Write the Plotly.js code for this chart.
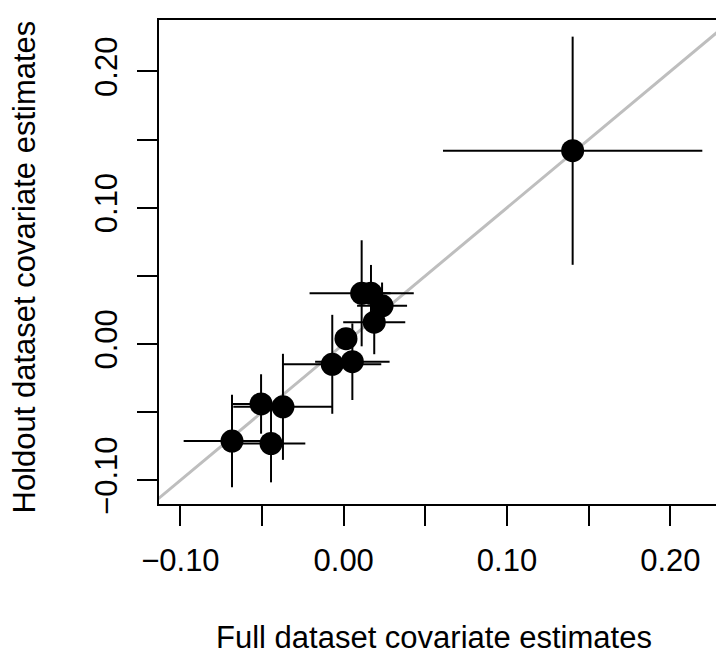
<!DOCTYPE html>
<html>
<head>
<meta charset="utf-8">
<script src="https://cdn.plot.ly/plotly-3.0.1.min.js"></script>
<style>html,body{margin:0;padding:0;background:#fff;}#chart{width:716px;height:657px;}</style>
</head>
<body>
<div id="chart"></div>
<script>
// Full dataset estimates (x) and holdout dataset estimates (y) with error half-widths
var fullEst     = [-0.0684, -0.0445, -0.0506, -0.0372, -0.0070, 0.0053, 0.0014, 0.0187, 0.0235, 0.0110, 0.0167, 0.1402];
var holdoutEst  = [-0.0712, -0.0730, -0.0440, -0.0461, -0.0149, -0.0130, 0.0039, 0.0160, 0.0280, 0.0372, 0.0372, 0.1418];
var fullErr     = [0.0296, 0.0210, 0.0178, 0.0304, 0.0300, 0.0228, 0.0050, 0.0190, 0.0153, 0.0319, 0.0120, 0.0794];
var holdoutErr  = [0.0339, 0.0285, 0.0218, 0.0389, 0.0363, 0.0281, 0.0050, 0.0235, 0.0171, 0.0389, 0.0208, 0.0837];

// identity reference line y = x
var identityLine = [-0.3, 0.4];

var xTickVals = [-0.10, -0.05, 0.00, 0.05, 0.10, 0.15, 0.20];
var xTickText = ["\u22120.10", "", "0.00", "", "0.10", "", "0.20"];
var yTickVals = [-0.10, -0.05, 0.00, 0.05, 0.10, 0.15, 0.20];
var yTickText = ["\u22120.10", "", "0.00", "", "0.10", "", "0.20"];

var xTitle = "Full dataset covariate estimates";
var yTitle = "Holdout dataset covariate estimates";

var FONT = "Liberation Sans, Arial, Helvetica, sans-serif";

var traces = [
  {
    x: identityLine, y: identityLine, type: 'scatter', mode: 'lines',
    line: {color: '#bebebe', width: 3}, hoverinfo: 'skip', showlegend: false
  },
  {
    x: fullEst, y: holdoutEst, type: 'scatter', mode: 'markers',
    marker: {color: '#000000', size: 23, line: {width: 0}},
    error_x: {type: 'data', array: fullErr, symmetric: true, color: '#000000', thickness: 2, width: 0},
    error_y: {type: 'data', array: holdoutErr, symmetric: true, color: '#000000', thickness: 2, width: 0},
    showlegend: false, cliponaxis: false
  }
];

var layout = {
  width: 716, height: 657,
  margin: {l: 159, r: 0, t: 20, b: 153, pad: 0},
  paper_bgcolor: '#ffffff', plot_bgcolor: '#ffffff',
  font: {family: FONT, size: 31, color: '#000000'},
  showlegend: false,
  xaxis: {
    range: [-0.11310, 0.22798], autorange: false,
    tickmode: 'array', tickvals: xTickVals, ticktext: xTickText,
    ticks: 'outside', ticklen: 20, tickwidth: 2, tickcolor: '#000000',
    showline: true, linewidth: 2, linecolor: '#000000', mirror: true,
    showgrid: false, zeroline: false,
    tickfont: {family: FONT, size: 31, color: '#000000'},
    ticklabelstandoff: 8
  },
  yaxis: {
    range: [-0.11739, 0.23771], autorange: false,
    tickmode: 'array', tickvals: yTickVals, ticktext: yTickText,
    ticks: 'outside', ticklen: 20, tickwidth: 2, tickcolor: '#000000',
    showline: true, linewidth: 2, linecolor: '#000000', mirror: false,
    showgrid: false, zeroline: false, tickangle: -90,
    tickfont: {family: FONT, size: 31, color: '#000000'},
    ticklabelstandoff: 8
  },
  annotations: [
    {text: xTitle, xref: 'paper', yref: 'paper', x: 0.4937, y: -0.275,
     xanchor: 'center', yanchor: 'middle', showarrow: false,
     font: {family: FONT, size: 31, color: '#000000'}},
    {text: yTitle, xref: 'paper', yref: 'paper', x: -0.2406, y: 0.4907,
     xanchor: 'center', yanchor: 'middle', showarrow: false, textangle: -90,
     font: {family: FONT, size: 31, color: '#000000'}}
  ]
};

Plotly.newPlot('chart', traces, layout, {staticPlot: true, displayModeBar: false});
</script>
</body>
</html>
